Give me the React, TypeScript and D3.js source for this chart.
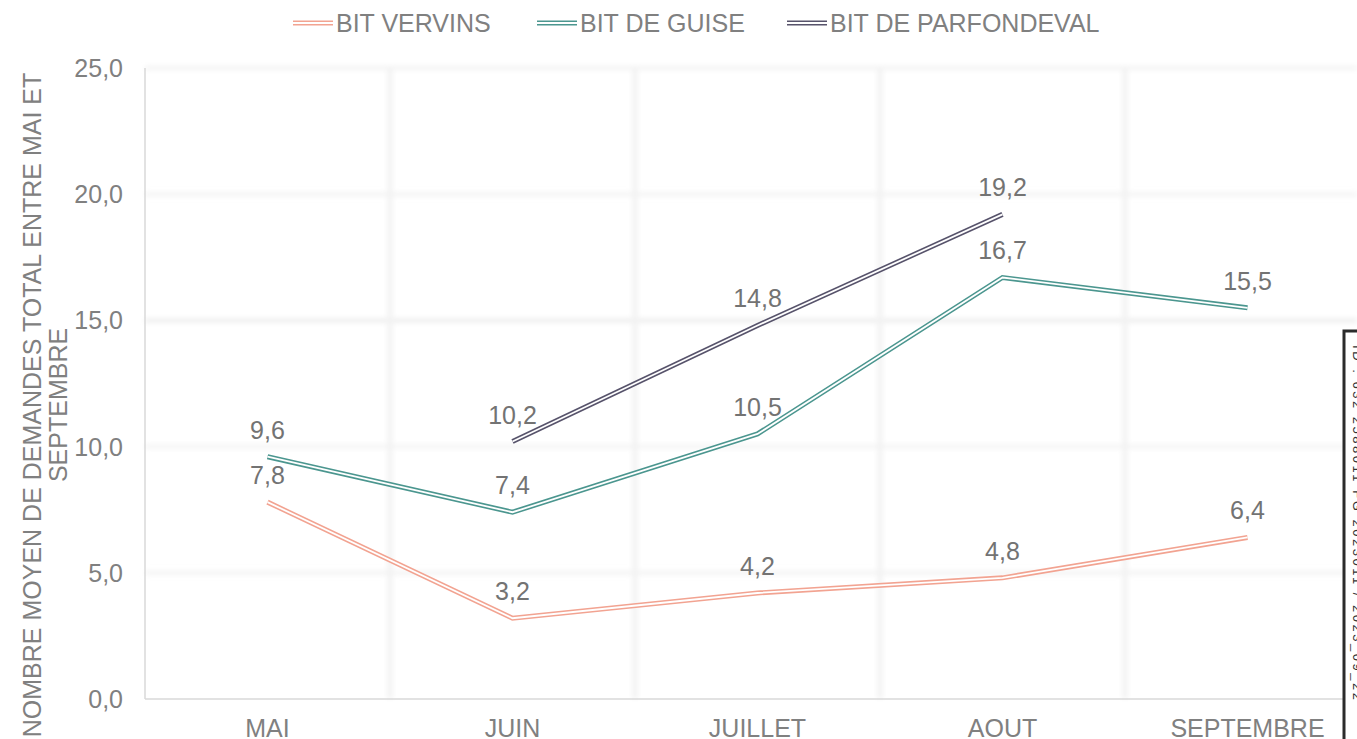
import React from "react";
import * as d3 from "d3";

const months = ["MAI", "JUIN", "JUILLET", "AOUT", "SEPTEMBRE"];
const vervins: (number | null)[] = [7.8, 3.2, 4.2, 4.8, 6.4];
const guise: (number | null)[] = [9.6, 7.4, 10.5, 16.7, 15.5];
const parfondeval: (number | null)[] = [null, 10.2, 14.8, 19.2, null];
const yTicks = [0, 5, 10, 15, 20, 25];
const seriesNames = ["BIT VERVINS", "BIT DE GUISE", "BIT DE PARFONDEVAL"];
const seriesColors = ["#F2A391", "#4B968F", "#57536B"];
const yTitleLines = ["NOMBRE MOYEN DE DEMANDES TOTAL ENTRE MAI ET", "SEPTEMBRE"];
const stampText = "ID : 632 2588011 FG 2023011 / 2023_09_22";

const W = 1357;
const H = 739;
const FONT = "'Liberation Sans', Arial, sans-serif";
const FS = 25;

export default function App() {
  const left = 145;
  const top = 68;
  const bottom = 699;
  const bandW = 245;
  const x = d3
    .scaleBand<string>()
    .domain(months)
    .range([left, left + bandW * months.length]);
  const y = d3.scaleLinear().domain([0, 25]).range([bottom, top]);
  const fmt = (v: number) => d3.format(".1f")(v).replace(".", ",");
  const cx = (m: string) => (x(m) as number) + x.bandwidth() / 2;

  const series = [vervins, guise, parfondeval];
  const line = d3
    .line<{ m: string; v: number | null }>()
    .defined((d) => d.v !== null)
    .x((d) => cx(d.m))
    .y((d) => y(d.v as number));

  const legendX = [293, 537, 787];

  return (
    <svg
      width={W}
      height={H}
      style={{ position: "absolute", left: 0, top: 0, background: "#fff" }}
      fontFamily={FONT}
    >
      <defs>
        <filter id="blur" x="-10%" y="-10%" width="120%" height="120%">
          <feGaussianBlur stdDeviation="2.5" />
        </filter>
      </defs>
      {/* gridlines */}
      <g filter="url(#blur)">
        {yTicks.slice(1).map((t) => (
          <line
            key={"h" + t}
            x1={left}
            x2={W}
            y1={y(t)}
            y2={y(t)}
            stroke={t === 15 ? "#ececec" : "#f3f3f3"}
            strokeWidth={4}
          />
        ))}
        {months.slice(1).map((m) => (
          <line
            key={"v" + m}
            x1={x(m) as number}
            x2={x(m) as number}
            y1={top}
            y2={bottom}
            stroke="#f2f2f2"
            strokeWidth={5}
          />
        ))}
      </g>
      {/* axes */}
      <line x1={left} x2={left} y1={top} y2={bottom} stroke="#d9d9d9" strokeWidth={1.5} />
      <line x1={left} x2={W} y1={bottom} y2={bottom} stroke="#d9d9d9" strokeWidth={1.5} />
      {yTicks.map((t) => (
        <text
          key={"yt" + t}
          x={123}
          y={y(t)}
          textAnchor="end"
          dominantBaseline="central"
          fontSize={FS}
          fill="#808080"
        >
          {fmt(t)}
        </text>
      ))}
      {months.map((m) => (
        <text
          key={"xt" + m}
          x={cx(m)}
          y={737}
          textAnchor="middle"
          fontSize={FS}
          fill="#808080"
        >
          {m}
        </text>
      ))}
      {/* y title */}
      <g transform={`translate(32, 405) rotate(-90)`}>
        {yTitleLines.map((l, i) => (
          <text
            key={l}
            x={0}
            y={i * 26}
            textAnchor="middle"
            dominantBaseline="central"
            fontSize={FS}
            fill="#808080"
          >
            {l}
          </text>
        ))}
      </g>
      {/* lines */}
      {series.map((s, i) => {
        const pts = months.map((m, j) => ({ m, v: s[j] }));
        const d = line(pts) || "";
        return (
          <g key={"s" + i}>
            <path d={d} fill="none" stroke={seriesColors[i]} strokeWidth={5} strokeLinejoin="miter" />
            <path d={d} fill="none" stroke="#fff" strokeWidth={1.8} strokeLinejoin="miter" />
          </g>
        );
      })}
      {/* labels */}
      {series.map((s, i) =>
        months.map((m, j) =>
          s[j] === null ? null : (
            <text
              key={"l" + i + j}
              x={cx(m)}
              y={y(s[j] as number) - 27}
              textAnchor="middle"
              dominantBaseline="central"
              fontSize={FS}
              fill="#737373"
            >
              {fmt(s[j] as number)}
            </text>
          )
        )
      )}
      {/* legend */}
      {seriesNames.map((n, i) => (
        <g key={"lg" + i} transform={`translate(${legendX[i]}, 23)`}>
          <line x1={0} x2={40} y1={0} y2={0} stroke={seriesColors[i]} strokeWidth={5} />
          <line x1={0} x2={40} y1={0} y2={0} stroke="#fff" strokeWidth={1.8} />
          <text x={43} y={0} dominantBaseline="central" fontSize={FS} fill="#808080">
            {n}
          </text>
        </g>
      ))}
      {/* stamp box on right edge */}
      <rect x={1344} y={331} width={40} height={430} fill="#fff" stroke="#2b2b2b" strokeWidth={3} />
      <text
        transform="translate(1357, 345) rotate(90)"
        fontSize={13}
        fill="#333"
        dominantBaseline="central"
        textLength={355}
        lengthAdjust="spacing"
      >
        {stampText}
      </text>
    </svg>
  );
}
